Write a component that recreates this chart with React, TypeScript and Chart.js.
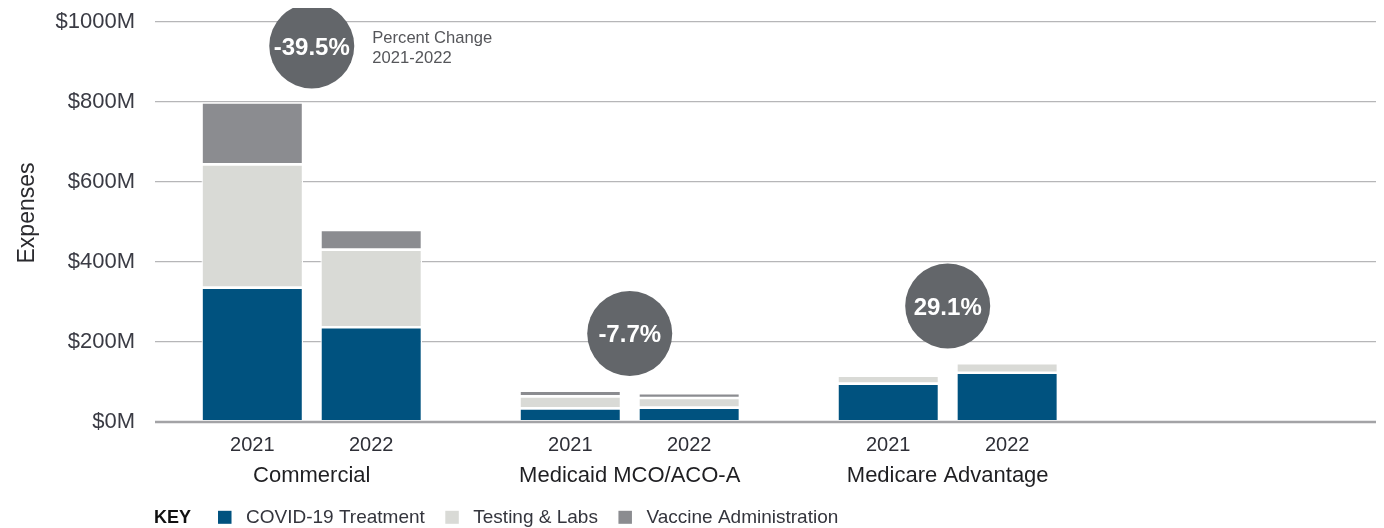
import React, { useEffect, useRef } from 'react';
import { Chart, registerables } from 'chart.js';

Chart.register(...registerables);

// ---- data ----
const groups = ['Commercial', 'Medicaid MCO/ACO-A', 'Medicare Advantage'];
const years = ['2021', '2022'];
const seriesNames = ['COVID-19 Treatment', 'Testing & Labs', 'Vaccine Administration'];
const treatment2021 = [336, 34, 96];
const testing2021 = [308, 30, 20];
const vaccine2021 = [155, 14, 0];
const treatment2022 = [237, 36, 123];
const testing2022 = [194, 24, 24];
const vaccine2022 = [49, 12, 0];
const percentChange = ['-39.5%', '-7.7%', '29.1%'];
const bubbleLevel = [940, 221, 290];
const yTickValues = [0, 200, 400, 600, 800, 1000];
const percentNote = ['Percent Change', '2021-2022'];

// ---- styles ----
const seriesColors = ['#00527f', '#d9dad6', '#8b8c90'];
const FONT = "'Liberation Sans', Arial, Helvetica, sans-serif";

const byYear: Record<string, number[][]> = {
  '2021': [treatment2021, testing2021, vaccine2021],
  '2022': [treatment2022, testing2022, vaccine2022],
};

const annotatePlugin = {
  id: 'annotate',
  afterDatasetsDraw(chart: any) {
    const { ctx, chartArea, scales } = chart;
    const y0 = scales.y.getPixelForValue(0);
    ctx.save();
    ctx.strokeStyle = '#a3a3a6';
    ctx.lineWidth = 2.5;
    ctx.beginPath();
    ctx.moveTo(chartArea.left, y0);
    ctx.lineTo(chartArea.right, y0);
    ctx.stroke();
    ctx.restore();
  },
  afterDraw(chart: any) {
    const { ctx, chartArea, scales } = chart;
    const xs = scales.x;
    const ys = scales.y;
    ctx.save();

    // year labels under each bar
    ctx.textAlign = 'center';
    ctx.textBaseline = 'alphabetic';
    ctx.fillStyle = '#2e2f37';
    ctx.font = `20px ${FONT}`;
    years.forEach((yr, si) => {
      const meta = chart.getDatasetMeta(si * seriesNames.length);
      groups.forEach((_, gi) => {
        const el = meta.data[gi];
        if (el) ctx.fillText(yr, el.x, chartArea.bottom + 28.7);
      });
    });

    // group labels
    ctx.fillStyle = '#1f1f22';
    ctx.font = `22px ${FONT}`;
    groups.forEach((g, gi) => {
      ctx.fillText(g, xs.getPixelForValue(gi), chartArea.bottom + 59.7);
    });

    // percent change bubbles
    groups.forEach((_, gi) => {
      const cx = xs.getPixelForValue(gi);
      const cy = ys.getPixelForValue(bubbleLevel[gi]);
      ctx.beginPath();
      ctx.fillStyle = '#63666a';
      ctx.arc(cx, cy, 42.5, 0, Math.PI * 2);
      ctx.fill();
      ctx.fillStyle = '#ffffff';
      ctx.font = `bold 24px ${FONT}`;
      ctx.textAlign = 'center';
      ctx.fillText(percentChange[gi], cx, cy + 8.6);
      if (gi === 0) {
        ctx.textAlign = 'left';
        ctx.fillStyle = '#55565a';
        ctx.font = `16.6px ${FONT}`;
        ctx.fillText(percentNote[0], cx + 60.5, cy - 3.5);
        ctx.fillText(percentNote[1], cx + 60.5, cy + 16.5);
      }
    });

    // y axis title
    ctx.save();
    ctx.translate(19.5, (chartArea.top + chartArea.bottom) / 2 - 9);
    ctx.rotate(-Math.PI / 2);
    ctx.textAlign = 'center';
    ctx.textBaseline = 'middle';
    ctx.fillStyle = '#2a2a2e';
    ctx.font = `23px ${FONT}`;
    ctx.fillText('Expenses', 0, 0);
    ctx.restore();

    // legend
    const base = chartArea.bottom + 101.3;
    let x = 146;
    ctx.textAlign = 'left';
    ctx.textBaseline = 'alphabetic';
    ctx.fillStyle = '#111111';
    ctx.font = `bold 18px ${FONT}`;
    ctx.fillText('KEY', x, base);
    x += ctx.measureText('KEY').width + 27;
    ctx.font = `19px ${FONT}`;
    seriesNames.forEach((name, i) => {
      ctx.fillStyle = seriesColors[i];
      ctx.fillRect(x, base - 12.5, 13.5, 13);
      x += 13.5 + 14.5;
      ctx.fillStyle = '#34353d';
      ctx.fillText(name, x, base);
      x += ctx.measureText(name).width + 20.5;
    });

    ctx.restore();
  },
};

export default function App() {
  const ref = useRef<HTMLCanvasElement | null>(null);

  useEffect(() => {
    document.body.style.overflow = 'hidden';
    if (!ref.current) return;
    const datasets: any[] = [];
    years.forEach((yr) => {
      byYear[yr].forEach((vals, si) => {
        datasets.push({
          label: seriesNames[si],
          stack: yr,
          data: vals.map((v, gi) => ({ x: gi, y: v })),
          backgroundColor: seriesColors[si],
          borderColor: '#ffffff',
          borderWidth: 1.3,
          borderSkipped: false,
          categoryPercentage: 0.748,
          barPercentage: 0.854,
        });
      });
    });

    const chart = new Chart(ref.current, {
      type: 'bar',
      data: { datasets },
      plugins: [annotatePlugin],
      options: {
        responsive: false,
        animation: false,
        layout: { padding: { top: 14, bottom: 106, left: 0, right: 0 } },
        plugins: { legend: { display: false }, tooltip: { enabled: false } },
        scales: {
          x: {
            type: 'linear',
            display: false,
            min: -0.493,
            max: 3.347,
            afterBuildTicks: (s: any) => {
              s.ticks = [];
            },
          },
          y: {
            stacked: true,
            min: 0,
            max: 1000,
            afterBuildTicks: (s: any) => {
              s.ticks = yTickValues.map((v) => ({ value: v }));
            },
            afterFit: (s: any) => {
              s.width = 147;
              s.paddingTop = 0;
              s.paddingBottom = 0;
            },
            border: { display: false },
            grid: {
              drawTicks: false,
              color: (c: any) => (c.tick && c.tick.value === 0 ? 'rgba(0,0,0,0)' : '#b6b6b8'),
              lineWidth: 1.2,
            },
            ticks: {
              padding: 20,
              color: '#3a3b44',
              font: { family: FONT, size: 22 },
              callback: (v: any) => `$${v}M`,
            },
          },
        },
      },
    });
    return () => chart.destroy();
  }, []);

  return <canvas ref={ref} width={1368} height={520} style={{ display: 'block' }} />;
}
